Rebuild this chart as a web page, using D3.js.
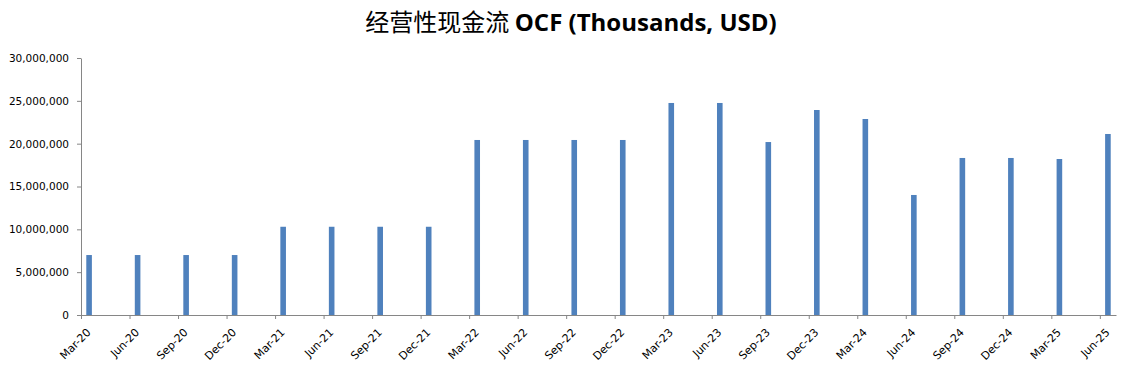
<!DOCTYPE html>
<html>
<head>
<meta charset="utf-8">
<script src="https://cdn.jsdelivr.net/npm/d3@7"></script>
<style>
  body { margin: 0; background: #fff; }
  svg { display: block; }
  .axis path, .axis line { stroke: #868686; }
  .axis text { font-family: "DejaVu Sans", sans-serif; font-size: 10.5px; fill: #000; }
  .axis.x text { font-size: 11px; }
</style>
</head>
<body>
<svg width="1131" height="375"></svg>
<script>
  // quarter-end labels, one per bar
  const quarters = [
    "Mar-20", "Jun-20", "Sep-20", "Dec-20",
    "Mar-21", "Jun-21", "Sep-21", "Dec-21",
    "Mar-22", "Jun-22", "Sep-22", "Dec-22",
    "Mar-23", "Jun-23", "Sep-23", "Dec-23",
    "Mar-24", "Jun-24", "Sep-24", "Dec-24",
    "Mar-25", "Jun-25"
  ];

  // operating cash flow, thousands USD
  const ocf = [
    7000000, 7000000, 7000000, 7000000,
    10300000, 10300000, 10300000, 10300000,
    20430000, 20430000, 20430000, 20430000,
    24750000, 24750000, 20190000, 23930000,
    22880000, 14010000, 18330000, 18330000,
    18210000, 21130000
  ];

  const yTicks = [0, 5000000, 10000000, 15000000, 20000000, 25000000, 30000000];

  const title = "经营性现金流";
  const subtitle = "OCF (Thousands, USD)";

  const svg = d3.select("svg");
  const margin = {top: 58, right: 15, bottom: 60, left: 81};
  const width = parseInt(svg.attr("width"));
  const height = parseInt(svg.attr("height"));

  const months = ["Jan","Feb","Mar","Apr","May","Jun","Jul","Aug","Sep","Oct","Nov","Dec"];
  function monthIndex(label) {
    const parts = label.split("-");
    return (parseInt(parts[1]) - 20) * 12 + months.indexOf(parts[0]) - 2;
  }

  const data = quarters.map((q, i) => ({label: q, value: ocf[i], m: monthIndex(q)}));
  const nMonths = monthIndex(quarters[quarters.length - 1]) + 1;

  // Excel-like date axis: one slot per month
  const x = d3.scaleLinear()
    .domain([0, nMonths])
    .range([margin.left, width - margin.right]);

  const y = d3.scaleLinear()
    .domain([0, 30000000])
    .range([height - margin.bottom, margin.top]);

  const fmt = d3.format(",");

  // y axis
  const yAxis = svg.append("g")
    .attr("class", "axis y")
    .attr("transform", "translate(" + margin.left + ",0)")
    .call(d3.axisLeft(y).tickValues(yTicks).tickFormat(fmt).tickSize(4).tickSizeOuter(0).tickPadding(8));

  // x axis
  const xAxis = svg.append("g")
    .attr("class", "axis x")
    .attr("transform", "translate(0," + (height - margin.bottom) + ")")
    .call(d3.axisBottom(x)
      .tickValues(data.map(d => d.m))
      .tickFormat((d, i) => data[i].label)
      .tickSize(4)
      .tickSizeOuter(0));

  xAxis.selectAll("text")
    .attr("text-anchor", "end")
    .attr("dy", null)
    .attr("transform", "translate(10,18) rotate(-45)")
    .attr("y", 0)
    .attr("x", 0);

  // bars
  const barW = 5.6;
  svg.append("g")
    .selectAll("rect")
    .data(data)
    .enter()
    .append("rect")
    .attr("x", d => x(d.m + 0.5) - barW / 2)
    .attr("width", barW)
    .attr("y", d => y(d.value))
    .attr("height", d => y(0) - y(d.value))
    .attr("fill", "#4F81BD");

  yAxis.raise();
  xAxis.raise();

  // title
  const t = svg.append("text")
    .attr("x", 571)
    .attr("y", 31)
    .attr("text-anchor", "middle")
    .attr("font-size", "24px")
    .attr("fill", "#000");

  t.append("tspan")
    .attr("font-family", "'Noto Sans CJK SC', sans-serif")
    .attr("font-weight", "normal")
    .text(title + " ");

  t.append("tspan")
    .attr("font-family", "'Open Sans', sans-serif")
    .attr("font-weight", "bold")
    .text(subtitle);
</script>
</body>
</html>
